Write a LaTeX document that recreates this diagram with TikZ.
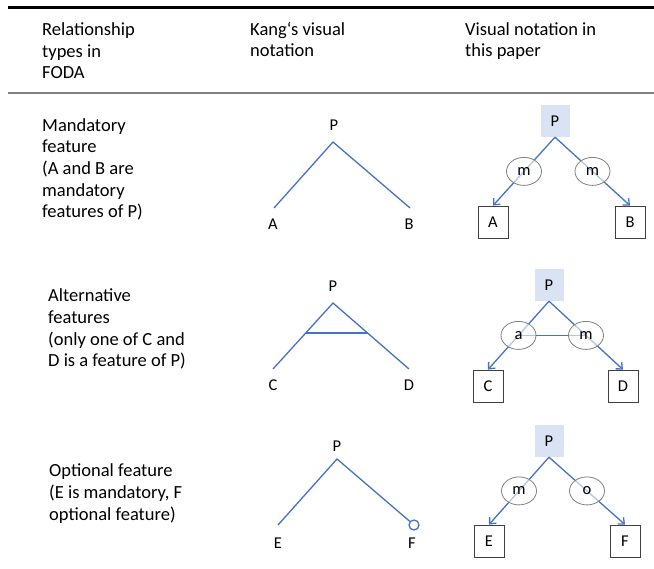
\documentclass[tikz,border=0pt]{standalone}
\usepackage{fontspec}
\setmainfont{Carlito}
\usetikzlibrary{arrows.meta,positioning,calc,shapes.geometric}
\definecolor{bluei}{RGB}{68,114,196}
\definecolor{bluefill}{RGB}{218,227,243}
\definecolor{grayi}{RGB}{128,128,128}
\tikzset{>={Straight Barb[length=5pt,width=9pt]},
          texto/.style={font=\fontsize{18.5}{21.7}\selectfont,align=left,
            anchor=base west,inner sep=0pt},
          letter/.style={font=\fontsize{16.5}{20}\selectfont,inner sep=0pt},
          kang/.style={draw=bluei,line width=1.3pt},
          parent/.style={letter,fill=bluefill,minimum width=29pt,minimum height=32pt},
          feat/.style={letter,draw=black!75,line width=0.8pt,
            minimum width=30pt,minimum height=32pt},
          rel/.style={letter,ellipse,draw=grayi,line width=0.8pt,fill=white,
            fill opacity=0.6,text opacity=1,minimum width=35pt,minimum height=28pt},
          link/.style={->,draw=bluei,line width=1.3pt}
        }
% text block, placed by the baseline of its last line
\newcommand\RowText[3]{%
          \node[texto] (#1) at (#2) {#3};
        }
\begin{document}
\begin{tikzpicture}[x=1pt,y=-1pt]
            \useasboundingbox (0,0) rectangle (654,569);
            \draw[line width=3pt] (8,8) -- (654,8);
            \draw[grayi,line width=2pt] (8,93) -- (654,93);

            % header
            \RowText{head1}{42,79}{Relationship\\types in\\FODA}
            \RowText{head2}{250,57}{Kang‘s visual\\notation}
            \RowText{head3}{465,57}{Visual notation in\\this paper}

            % left column
            \RowText{mandtext}{42,218}{Mandatory\\feature\\(A and B are\\mandatory\\features of P)}
            \RowText{alttext}{48,367}{Alternative\\features\\(only one of C and\\D is a feature of P)}
            \RowText{opttext}{49,520}{Optional feature\\(E is mandatory, F\\optional feature)}

            % Kang: mandatory
            \node[letter,anchor=base] (kp1) at (334,131) {P};
            \node[letter,anchor=base] (ka) at (273,230) {A};
            \node[letter,anchor=base] (kb) at (409,230) {B};
            \coordinate (kp1top) at (333,142);
            \coordinate (kaend) at (274,208);
            \coordinate (kbend) at (410,208);
            \draw[kang] (kaend) -- (kp1top) -- (kbend);

            % Kang: alternative
            \node[letter,anchor=base] (kp2) at (333,292) {P};
            \node[letter,anchor=base] (kc) at (273,391) {C};
            \node[letter,anchor=base] (kd) at (409,391) {D};
            \coordinate (kp2top) at (333,303);
            \coordinate (kcend) at (273,369);
            \coordinate (kdend) at (409,369);
            \draw[kang] (kcend) -- (kp2top) -- (kdend);
            \draw[kang] ($(kp2top)!0.455!(kcend)$) -- ($(kp2top)!0.455!(kdend)$);

            % Kang: optional
            \node[letter,anchor=base] (kp3) at (337,452) {P};
            \node[letter,anchor=base] (ke) at (278,548) {E};
            \node[letter,anchor=base] (kf) at (412,548) {F};
            \coordinate (kp3top) at (337,459);
            \coordinate (keend) at (278,525);
            \node[circle,draw=bluei,line width=1.3pt,minimum size=10pt,inner sep=0pt] (kfopt) at (414,525) {};
            \draw[kang] (keend) -- (kp3top) -- (kfopt);

            % this paper: mandatory
            \node[parent] (pp1) at (555,121) {P};
            \node[feat] (fa) at (493,222) {A};
            \node[feat] (fb) at (630,222) {B};
            \draw[link] (pp1.south) -- (fa.north);
            \draw[link] (pp1.south) -- (fb.north);
            \node[rel] (ma) at ($(pp1.south)!0.5!(fa.north)$) {m};
            \node[rel] (mb) at ($(pp1.south)!0.5!(fb.north)$) {m};

            % this paper: alternative
            \node[parent] (pp2) at (549,285) {P};
            \node[feat] (fc) at (488,386) {C};
            \node[feat] (fd) at (623,386) {D};
            \draw[link] (pp2.south) -- (fc.north);
            \draw[link] (pp2.south) -- (fd.north);
            \coordinate (ac) at ($(pp2.south)!0.5!(fc.north)$);
            \coordinate (md) at ($(pp2.south)!0.5!(fd.north)$);
            \draw[kang] (ac) -- (md);
            \node[rel] (altc) at (ac) {a};
            \node[rel] (mandd) at (md) {m};

            % this paper: optional
            \node[parent] (pp3) at (549,441) {P};
            \node[feat] (fe) at (489,541) {E};
            \node[feat] (ff) at (625,541) {F};
            \draw[link] (pp3.south) -- (fe.north);
            \draw[link] (pp3.south) -- (ff.north);
            \node[rel] (me) at ($(pp3.south)!0.5!(fe.north)$) {m};
            \node[rel] (of) at ($(pp3.south)!0.5!(ff.north)$) {o};
          \end{tikzpicture}
\end{document}
